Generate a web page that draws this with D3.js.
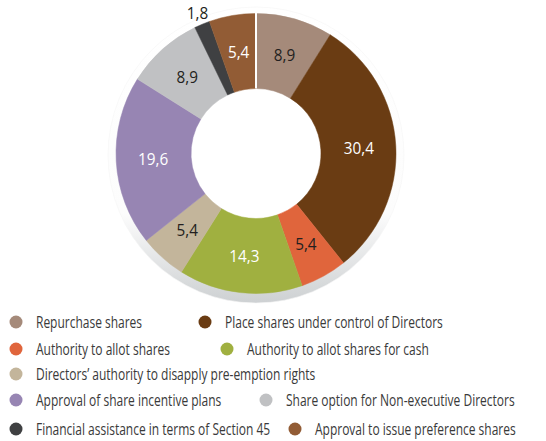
<!DOCTYPE html>
<html>
<head>
<meta charset="utf-8">
<script src="https://cdn.jsdelivr.net/npm/d3@7"></script>
<style>
  body { margin: 0; background: #fff; }
  svg { display: block; }
</style>
</head>
<body>
<svg id="chart" width="546" height="441"></svg>
<script>
// resolutions and share of votes (%)
let categories = [
  "Repurchase shares",
  "Place shares under control of Directors",
  "Authority to allot shares",
  "Authority to allot shares for cash",
  "Directors\u2019 authority to disapply pre-emption rights",
  "Approval of share incentive plans",
  "Share option for Non-executive Directors",
  "Financial assistance in terms of Section 45",
  "Approval to issue preference shares"
];
let values = [8.9, 30.4, 5.4, 14.3, 5.4, 19.6, 8.9, 1.8, 5.4];
let labels = ["8,9", "30,4", "5,4", "14,3", "5,4", "19,6", "8,9", "1,8", "5,4"];
let colors = ["#a58a7a", "#6a3c13", "#e0653c", "#a0b040", "#c3b59b",
              "#9785b3", "#c0c1c3", "#3f4042", "#925c35"];
let lightText = [false, true, false, true, false, true, false, false, true];

// legend layout: [row, x of dot]
let legendPos = [[0, 16], [0, 205], [1, 16], [1, 227], [2, 16],
                 [3, 16], [3, 266], [4, 16], [4, 295]];
let rowY = [322, 349, 374, 400, 429];

const svg = d3.select("#chart");
const cx = 256, cy = 153.5;
const outerR = 140, innerR = 65;

// soft shadow ring behind the donut
let defs = svg.append("defs");
let grad = defs.append("linearGradient")
  .attr("id", "shade").attr("x1", 0).attr("y1", 0).attr("x2", 0).attr("y2", 1);
grad.append("stop").attr("offset", "0%").attr("stop-color", "#ffffff");
grad.append("stop").attr("offset", "70%").attr("stop-color", "#fcfcfc");
grad.append("stop").attr("offset", "100%").attr("stop-color", "#cdd0d2");

svg.append("circle")
  .attr("cx", cx).attr("cy", cy + 1.5).attr("r", outerR + 8)
  .attr("fill", "url(#shade)")
  .attr("stroke", "#f5f5f5").attr("stroke-width", 0.6);

const g = svg.append("g").attr("transform", `translate(${cx},${cy})`);

// white hole
g.append("circle").attr("r", innerR).attr("fill", "#fff");

let pie = d3.pie().sort(null).value(d => d);
let arcs = pie(values);
let arc = d3.arc().innerRadius(innerR).outerRadius(outerR);
let labelArc = d3.arc().innerRadius(103).outerRadius(103);
let outsideArc = d3.arc().innerRadius(152).outerRadius(152);

g.selectAll("path.slice")
  .data(arcs)
  .join("path")
  .attr("class", "slice")
  .attr("d", arc)
  .attr("fill", (d, i) => colors[i])
  .attr("stroke", (d, i) => colors[i])
  .attr("stroke-width", 0.5);

// white seam at the start angle
g.append("line")
  .attr("x1", 0).attr("y1", -innerR)
  .attr("x2", 0).attr("y2", -outerR - 1)
  .attr("stroke", "#fff").attr("stroke-width", 2);

g.selectAll("text.val")
  .data(arcs)
  .join("text")
  .attr("class", "val")
  .attr("transform", (d, i) => {
    let p = values[i] < 3 ? outsideArc.centroid(d) : labelArc.centroid(d);
    return `translate(${p[0]},${p[1]}) scale(0.9,1)`;
  })
  .attr("text-anchor", "middle")
  .attr("dy", "0.36em")
  .attr("font-family", "Open Sans, sans-serif")
  .attr("font-size", 17)
  .attr("fill", (d, i) => lightText[i] ? "#ffffff" : "#231f20")
  .text((d, i) => labels[i]);

// legend
let legend = svg.append("g");
let items = legend.selectAll("g.item")
  .data(categories)
  .join("g")
  .attr("class", "item")
  .attr("transform", (d, i) => `translate(${legendPos[i][1]},${rowY[legendPos[i][0]]})`);

items.append("circle")
  .attr("r", 6.5)
  .attr("fill", (d, i) => colors[i]);

let texts = items.append("text")
  .attr("x", 20)
  .attr("dy", "0.35em")
  .attr("font-family", "Open Sans, sans-serif")
  .attr("font-size", 16)
  .attr("fill", "#3a3a3a")
  .text(d => d);

// the source uses a condensed face, so squeeze the text horizontally
let ref = texts.filter((d, i) => i === 1).node().getComputedTextLength();
let squeeze = 218 / ref;
texts.attr("transform", `scale(${squeeze},1)`)
  .attr("x", 20 / squeeze);
</script>
</body>
</html>
